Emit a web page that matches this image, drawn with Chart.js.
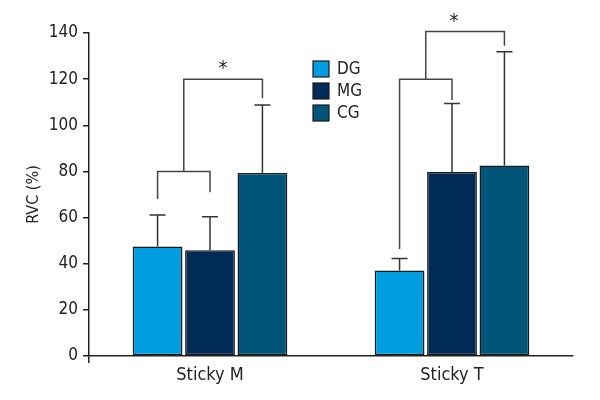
<!DOCTYPE html>
<html>
<head>
<meta charset="utf-8">
<script src="https://cdn.jsdelivr.net/npm/chart.js@4/dist/chart.umd.min.js"></script>
<style>
  html, body { margin: 0; padding: 0; background: #fff; }
  #wrap { width: 600px; height: 400px; }
</style>
</head>
<body>
<div id="wrap"><canvas id="c" width="600" height="400"></canvas></div>
<script>
// ---- data ----
const categories = ['Sticky M', 'Sticky T'];
const seriesNames = ['DG', 'MG', 'CG'];
const dgValues = [47.5, 37.1];
const mgValues = [45.8, 79.8];
const cgValues = [79.3, 82.6];
const dgErrors = [13.6, 5.2];
const mgErrors = [14.6, 29.6];
const cgErrors = [29.5, 49.3];
const yTicks = [0, 20, 40, 60, 80, 100, 120, 140];
// significance brackets (in data units): category, bars, bracket level, leg ends
const innerBrackets = [
  { cat: 0, a: 0, b: 1, level: 80, legA: 68, legB: 71 },
  { cat: 1, a: 0, b: 1, level: 120, legA: 46.4, legB: 111 }
];
const outerBrackets = [
  { cat: 0, b: 2, level: 120, legB: 111.7, label: '*', starPos: 0.5 },
  { cat: 1, b: 2, level: 140.6, legB: 134.5, label: '*', starPos: 0.36 }
];

const FONT = "'Liberation Sans Narrow', 'DejaVu Sans Condensed', 'Roboto', sans-serif";
const colors = ['#009ee0', '#002b57', '#005579'];
const errorArrays = [dgErrors, mgErrors, cgErrors];

const errorBarPlugin = {
  id: 'errorBars',
  afterDatasetsDraw(chart) {
    const ctx = chart.ctx;
    const y = chart.scales.y;
    ctx.save();
    ctx.strokeStyle = '#333';
    ctx.lineWidth = 1.5;
    chart.data.datasets.forEach((ds, di) => {
      const meta = chart.getDatasetMeta(di);
      meta.data.forEach((bar, i) => {
        const v = ds.data[i];
        const e = errorArrays[di][i];
        const x = bar.x;
        const yTop = y.getPixelForValue(v + e);
        const yBar = y.getPixelForValue(v);
        ctx.beginPath();
        ctx.moveTo(x, yBar);
        ctx.lineTo(x, yTop);
        ctx.moveTo(x - 8, yTop);
        ctx.lineTo(x + 8, yTop);
        ctx.stroke();
      });
    });
    // brackets
    ctx.strokeStyle = '#444';
    ctx.lineWidth = 1.5;
    const barX = (cat, idx) => chart.getDatasetMeta(idx).data[cat].x;
    innerBrackets.forEach((br, k) => {
      const xa = barX(br.cat, br.a), xb = barX(br.cat, br.b);
      const yl = y.getPixelForValue(br.level);
      ctx.beginPath();
      ctx.moveTo(xa, y.getPixelForValue(br.legA));
      ctx.lineTo(xa, yl);
      ctx.lineTo(xb, yl);
      ctx.lineTo(xb, y.getPixelForValue(br.legB));
      ctx.stroke();
      const ob = outerBrackets[k];
      const xm = (xa + xb) / 2;
      const xc = barX(ob.cat, ob.b);
      const yo = y.getPixelForValue(ob.level);
      ctx.beginPath();
      ctx.moveTo(xm, yl);
      ctx.lineTo(xm, yo);
      ctx.lineTo(xc, yo);
      ctx.lineTo(xc, y.getPixelForValue(ob.legB));
      ctx.stroke();
      ctx.fillStyle = '#222';
      ctx.font = '20px ' + FONT;
      ctx.textAlign = 'center';
      ctx.textBaseline = 'middle';
      ctx.fillText(ob.label, xm + (xc - xm) * ob.starPos, yo - 10);
    });
    // legend
    ctx.font = '17px ' + FONT;
    ctx.textAlign = 'left';
    ctx.textBaseline = 'middle';
    chart.data.datasets.forEach((ds, di) => {
      const bx = 313, by = 61 + di * 22;
      ctx.fillStyle = ds.backgroundColor;
      ctx.fillRect(bx, by, 16, 16);
      ctx.strokeStyle = '#1a1a1a';
      ctx.lineWidth = 1.2;
      ctx.strokeRect(bx, by, 16, 16);
      ctx.fillStyle = '#222';
      ctx.fillText(ds.label, bx + 24, by + 9);
    });
    ctx.restore();
  }
};

new Chart(document.getElementById('c'), {
  type: 'bar',
  data: {
    labels: categories,
    datasets: [
      { label: seriesNames[0], data: dgValues, backgroundColor: colors[0] },
      { label: seriesNames[1], data: mgValues, backgroundColor: colors[1] },
      { label: seriesNames[2], data: cgValues, backgroundColor: colors[2] }
    ].map(d => Object.assign(d, { borderColor: '#1a1a1a', borderWidth: 1.5, borderSkipped: false }))
  },
  options: {
    responsive: false,
    animation: false,
    devicePixelRatio: 1,
    layout: { padding: { left: 0, right: 27, top: 33, bottom: 0 } },
    plugins: { legend: { display: false }, tooltip: { enabled: false } },
    datasets: { bar: { categoryPercentage: 0.65, barPercentage: 0.95 } },
    scales: {
      x: {
        offset: true,
        grid: {
          drawOnChartArea: false,
          tickLength: 7,
          lineWidth: 1.5,
          color: (c) => (c.index === 0 ? '#222' : 'rgba(0,0,0,0)')
        },
        border: { color: '#222', width: 1.5 },
        ticks: { color: '#222', font: { family: FONT, size: 18 }, padding: 2 },
        afterFit(s) { s.height = 44; }
      },
      y: {
        min: 0, max: 140,
        afterBuildTicks(s) { s.ticks = yTicks.map(v => ({ value: v })); },
        grid: { drawOnChartArea: false, tickLength: 6, color: '#222', lineWidth: 1.5 },
        border: { color: '#222', width: 1.5 },
        ticks: { color: '#222', font: { family: FONT, size: 17 }, padding: 5 },
        title: { display: true, text: 'RVC (%)', color: '#222', font: { family: FONT, size: 16 }, padding: { top: 24, bottom: 0 } },
        afterFit(s) { s.width = 89; }
      }
    }
  },
  plugins: [errorBarPlugin]
});
</script>
</body>
</html>
